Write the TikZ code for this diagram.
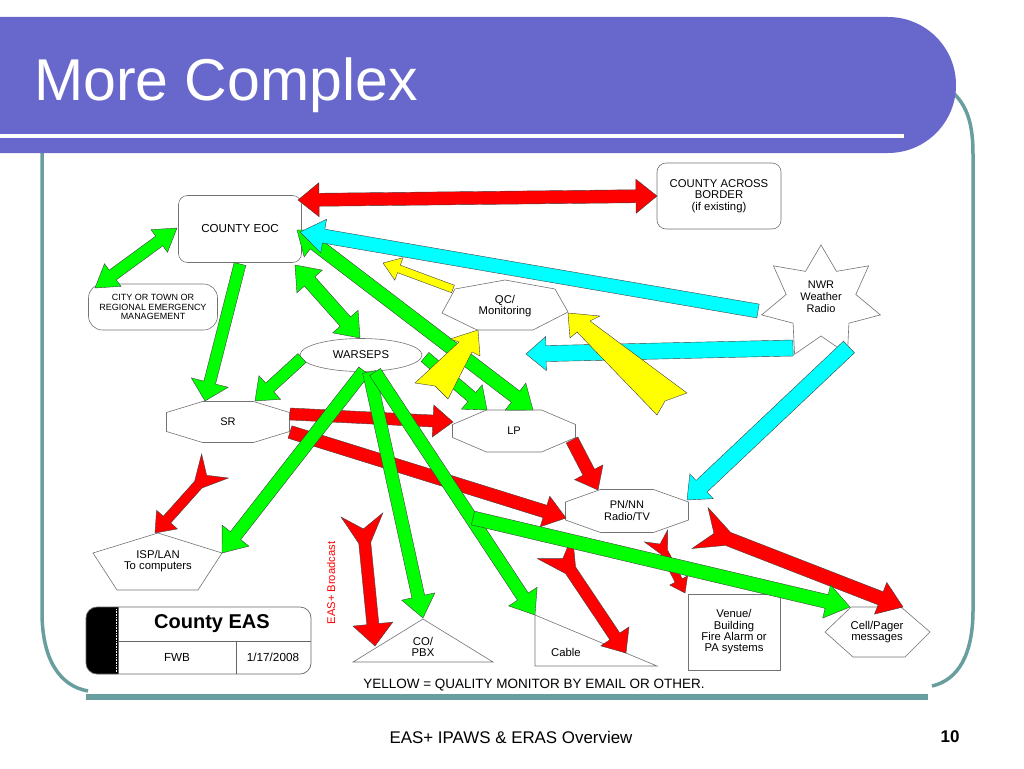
\documentclass[tikz,border=0pt]{standalone}
\usepackage{fontspec}
\setmainfont{Liberation Sans}
\usetikzlibrary{calc,positioning,shapes.geometric}

\definecolor{slidepurple}{RGB}{104,104,204}
\definecolor{frameteal}{RGB}{104,158,158}
\definecolor{arrgreen}{RGB}{0,255,0}
\definecolor{arrcyan}{RGB}{0,255,255}
\definecolor{arryellow}{RGB}{255,255,0}

\begin{document}
\begin{tikzpicture}[x=1pt,y=-1pt,
    shp/.style={draw=black!55,line width=.6pt,fill=white},
    lbl/.style={align=center,inner sep=0pt,font=\fontsize{11}{12}\selectfont},
    redarr/.style={fill=red,draw=black!75,line width=.4pt},
    grnarr/.style={fill=arrgreen,draw=black!75,line width=.4pt},
    cyanarr/.style={fill=arrcyan,draw=black!75,line width=.4pt},
    yelarr/.style={fill=arryellow,draw=black!75,line width=.4pt}]

  \useasboundingbox (0,0) rectangle (1024,768);

  %% block arrows: style, tail, tip, half shaft, half head, head length
  \def\onearrow#1#2#3#4#5#6{
    \coordinate (ta) at (#2);
    \coordinate (tb) at (#3);
    \coordinate (hb) at ($(tb)!#6!(ta)$);
    \filldraw[#1] ($(ta)!#4!90:(tb)$) -- ($(hb)!#4!90:(tb)$) -- ($(hb)!#5!90:(tb)$) -- (tb)
      -- ($(hb)!#5!-90:(tb)$) -- ($(hb)!#4!-90:(tb)$) -- ($(ta)!#4!-90:(tb)$) -- cycle;
  }
  \def\twoarrow#1#2#3#4#5#6{
    \coordinate (ta) at (#2);
    \coordinate (tb) at (#3);
    \coordinate (ha) at ($(ta)!#6!(tb)$);
    \coordinate (hb) at ($(tb)!#6!(ta)$);
    \filldraw[#1] (ta) -- ($(ha)!#5!90:(tb)$) -- ($(ha)!#4!90:(tb)$) -- ($(hb)!#4!90:(tb)$)
      -- ($(hb)!#5!90:(tb)$) -- (tb) -- ($(hb)!#5!-90:(tb)$) -- ($(hb)!#4!-90:(tb)$)
      -- ($(ha)!#4!-90:(tb)$) -- ($(ha)!#5!-90:(tb)$) -- cycle;
  }
  %% same with a notched tail: ... , half tail width, tail length
  \def\fletcharrow#1#2#3#4#5#6#7#8{
    \coordinate (ta) at (#2);
    \coordinate (tb) at (#3);
    \coordinate (hb) at ($(tb)!#6!(ta)$);
    \coordinate (tf) at ($(ta)!#8!(tb)$);
    \coordinate (tn) at ($(ta)!.5!(tf)$);
    \filldraw[#1] ($(tf)!#4!90:(tb)$) -- ($(hb)!#4!90:(tb)$) -- ($(hb)!#5!90:(tb)$) -- (tb)
      -- ($(hb)!#5!-90:(tb)$) -- ($(hb)!#4!-90:(tb)$) -- ($(tf)!#4!-90:(tb)$)
      -- ($(ta)!#7!-90:(tb)$) -- (tn) -- ($(ta)!#7!90:(tb)$) -- cycle;
  }

  %%%% slide frame and title %%%%
  \draw[frameteal,line width=3.5pt] (950,90) .. controls (968,105) and (973,125) .. (973,155)
    -- (973,610) .. controls (973,655) and (958,680) .. (932,686);
  \draw[frameteal,line width=3.5pt] (42,150) -- (42,612) .. controls (42,660) and (60,686) .. (88,691);
  \draw[frameteal,line width=6pt] (86,697) -- (928,697);
  \fill[slidepurple,rounded corners=68pt] (-100,17) rectangle (956,153);
  \draw[white,line width=3.5pt] (-5,136) -- (904,136);
  \node[anchor=base west,text=white,inner sep=0pt,font=\fontsize{59}{60}\selectfont] (title) at (34,100) {More Complex};

  %%%% boxes %%%%
  \node[shp,rounded corners=9pt,minimum width=123,minimum height=67,lbl,font=\fontsize{11.6}{12.5}\selectfont]
    (eoc) at (240,229) {COUNTY EOC};
  \node[shp,rounded corners=14pt,minimum width=129,minimum height=46,lbl,font=\fontsize{9}{9.3}\selectfont]
    (city) at (153,307) {CITY OR TOWN OR\\REGIONAL EMERGENCY\\MANAGEMENT};
  \node[shp,rounded corners=9pt,minimum width=124,minimum height=66,lbl,font=\fontsize{11.3}{11.3}\selectfont]
    (border) at (719,196) {COUNTY ACROSS\\BORDER\\(if existing)};
  \node[shp,ellipse,minimum width=122,minimum height=33,lbl,font=\fontsize{11.3}{12}\selectfont] (warseps) at (361,355) {WARSEPS};
  \node[shp,minimum width=92,minimum height=76,lbl,font=\fontsize{11.3}{11.3}\selectfont]
    (venue) at (734,632) {Venue/\\Building\\Fire Alarm or\\PA systems};

  %% octagons
  \foreach \nm/\cx/\cy/\b/\c/\s/\txt in {sr/228/422/20.5/36/9.5/SR, lp/514/431/21/34/6.5/LP,
      pn/627/511/21.5/35/9/{PN/NN\\Radio/TV}}{
    \draw[shp] ({\cx-61.5+\c},{\cy-\b}) -- ({\cx+61.5-\c},{\cy-\b}) -- ({\cx+61.5},{\cy-\s})
      -- ({\cx+61.5},{\cy+\s}) -- ({\cx+61.5-\c},{\cy+\b}) -- ({\cx-61.5+\c},{\cy+\b})
      -- ({\cx-61.5},{\cy+\s}) -- ({\cx-61.5},{\cy-\s}) -- cycle;
    \node[lbl] (\nm) at (\cx,\cy) {\txt};
  }

  %% other shapes
  \draw[shp] (442,313) -- (455,289) -- (505,280) -- (555,289) -- (568,312) -- (533,330) -- (477,330) -- cycle;
  \node[lbl,font=\fontsize{11.3}{11.7}\selectfont] (qc) at (505,306) {QC/\\Monitoring};
  \coordinate (nwr-c) at (821,302);
  \draw[shp] ($(nwr-c)+(0,-57)$) \foreach \i in {1,...,13}{
      -- ($(nwr-c)+({1.05*(46+12*cos(\i*180))*cos(\i*180/7-90)},{(46+12*cos(\i*180))*sin(\i*180/7-90)})$) } -- cycle;
  \node[lbl] (nwr) at (821,297) {NWR\\Weather\\Radio};
  \draw[shp] (158,533) -- (222,553) -- (198,590) -- (117,590) -- (93,553) -- cycle;
  \node[lbl,font=\fontsize{11.3}{11.5}\selectfont] (isp) at (158,561) {ISP/LAN\\To computers};
  \draw[shp] (423,619) -- (493,662) -- (353,662) -- cycle;
  \node[lbl,font=\fontsize{11.3}{10.5}\selectfont] (copbx) at (423,647) {CO/\\PBX};
  \draw[shp] (535,615) -- (657,666) -- (535,666) -- cycle;
  \node[lbl,font=\fontsize{11.3}{11}\selectfont] (cable) at (566,652) {Cable};
  \draw[shp] (825,632) -- (851,607) -- (901,607) -- (930,632) -- (905,657) -- (853,657) -- cycle;
  \node[lbl,font=\fontsize{11.3}{11}\selectfont] (cell) at (877,632) {Cell/Pager\\messages};

  %%%% arrow ends %%%%
  \coordinate (eoc-ne) at (298,200);    \coordinate (border-w) at (657,196);
  \coordinate (eoc-w) at (177,228);     \coordinate (city-n) at (95,288);
  \coordinate (eoc-s) at (240,264);     \coordinate (sr-n) at (205,401);
  \coordinate (eoc-se) at (295,265);    \coordinate (warseps-n) at (360,338);
  \coordinate (eoc-e) at (297,230);     \coordinate (lp-ne) at (533,410);
  \coordinate (warseps-e) at (425,357); \coordinate (lp-n) at (487,410);
  \coordinate (warseps-w) at (302,358); \coordinate (sr-ne) at (255,401);
  \coordinate (warseps-s1) at (364,371); \coordinate (isp-ne) at (222,553);
  \coordinate (warseps-s2) at (369,372); \coordinate (copbx-n) at (423,618);
  \coordinate (warseps-s3) at (375,372); \coordinate (cable-n) at (535,615);
  \coordinate (green-tail) at (473,518); \coordinate (cell-w) at (850,607);
  \coordinate (sr-e1) at (290,414);     \coordinate (lp-w) at (453,422);
  \coordinate (sr-e2) at (290,432);     \coordinate (pn-w) at (566,518);
  \coordinate (lp-se) at (572,440);     \coordinate (pn-n) at (598,490);
  \coordinate (isp-tail) at (215,466);  \coordinate (isp-n) at (155,533);
  \coordinate (copbx-tail) at (362,515); \coordinate (copbx-w) at (375,646);
  \coordinate (cable-tail) at (555,547); \coordinate (cable-se) at (626,653);
  \coordinate (venue-tail) at (656,536); \coordinate (venue-nw) at (685,593);
  \coordinate (cell-tail) at (700,528); \coordinate (cell-ne) at (903,607);
  \coordinate (nwr-w1) at (758,311);    \coordinate (eoc-e2) at (300,232);
  \coordinate (nwr-w2) at (793,348);    \coordinate (qc-s) at (526,354);
  \coordinate (nwr-s) at (849,347);     \coordinate (pn-ne) at (687,500);
  \coordinate (qc-nw) at (453,289);     \coordinate (qc-out) at (383,263);

  %%%% red %%%%
  \twoarrow{redarr}{eoc-ne}{border-w}{6.5pt}{17pt}{21pt}
  \onearrow{redarr}{sr-e1}{lp-w}{6pt}{16pt}{20pt}
  \onearrow{redarr}{sr-e2}{pn-w}{6.5pt}{16pt}{22pt}
  \onearrow{redarr}{lp-se}{pn-n}{6.5pt}{16pt}{20pt}
  \fletcharrow{redarr}{isp-tail}{isp-n}{5pt}{14pt}{18pt}{18pt}{25pt}
  \fletcharrow{redarr}{copbx-tail}{copbx-w}{6pt}{20pt}{22pt}{21pt}{28pt}
  \fletcharrow{redarr}{cable-tail}{cable-se}{6pt}{17pt}{20pt}{21pt}{28pt}
  \fletcharrow{redarr}{venue-tail}{venue-nw}{4pt}{10pt}{14pt}{13pt}{18pt}
  \fletcharrow{redarr}{cell-tail}{cell-ne}{7pt}{17pt}{24pt}{22pt}{30pt}

  %%%% green %%%%
  \twoarrow{grnarr}{eoc-w}{city-n}{6pt}{14pt}{22pt}
  \onearrow{grnarr}{eoc-s}{sr-n}{6pt}{19pt}{19pt}
  \twoarrow{grnarr}{eoc-se}{warseps-n}{7pt}{17pt}{22pt}
  \twoarrow{grnarr}{eoc-e}{lp-ne}{7pt}{17pt}{22pt}
  \onearrow{grnarr}{warseps-e}{lp-n}{6pt}{16pt}{20pt}
  \onearrow{grnarr}{warseps-w}{sr-ne}{6pt}{16pt}{20pt}
  \onearrow{grnarr}{warseps-s1}{isp-ne}{6.5pt}{17pt}{22pt}
  \onearrow{grnarr}{warseps-s2}{copbx-n}{6.5pt}{17pt}{22pt}
  \onearrow{grnarr}{warseps-s3}{cable-n}{6.5pt}{17pt}{22pt}
  \onearrow{grnarr}{green-tail}{cell-w}{7pt}{17pt}{24pt}

  %%%% cyan %%%%
  \onearrow{cyanarr}{nwr-w1}{eoc-e2}{7pt}{17pt}{24pt}
  \onearrow{cyanarr}{nwr-w2}{qc-s}{8pt}{17pt}{20pt}
  \onearrow{cyanarr}{nwr-s}{pn-ne}{8pt}{17pt}{20pt}

  %%%% yellow (quality monitor) %%%%
  \onearrow{yelarr}{qc-nw}{qc-out}{4pt}{12pt}{17pt}
  \filldraw[yelarr] (478,330) -- (480,356) -- (472,352) -- (448,399) -- (435,386) -- (415,383)
    -- (459,342) -- (450,339) -- cycle;
  \filldraw[yelarr] (568,313) -- (600,316) -- (590,321) -- (687,393) -- (665,401) -- (657,415)
    -- (577,332) -- (570,338) -- cycle;

  %%%% title block %%%%
  \fill[black,rounded corners=11pt] (86,607) rectangle (130,674);
  \fill[white] (118,606) rectangle (132,675);
  \draw[white,densely dotted,line width=.6pt] (116.5,609) -- (116.5,672);
  \draw[black!60,line width=.7pt,rounded corners=11pt] (86,607) rectangle (311,674);
  \draw[black!60,line width=.7pt] (118,607) -- (118,674) (118,641) -- (311,641) (236,641) -- (236,674);
  \node[font=\bfseries\fontsize{20}{20}\selectfont,inner sep=0pt] (eas) at (212,624) {County EAS};
  \node[font=\fontsize{11.7}{12}\selectfont,inner sep=0pt] (fwb) at (177,657) {FWB};
  \node[font=\fontsize{11.7}{12}\selectfont,inner sep=0pt] (date) at (273,657) {1/17/2008};

  %% loose texts
  \node[rotate=90,text=red,inner sep=0pt,font=\fontsize{11.2}{12}\selectfont] (bcast) at (331,583) {EAS+ Broadcast};
  \node[inner sep=0pt,font=\fontsize{13.5}{14}\selectfont] (legend) at (534,685) {YELLOW = QUALITY MONITOR BY EMAIL OR OTHER.};
  \node[inner sep=0pt,font=\fontsize{16.9}{18}\selectfont] (foot) at (511,737) {EAS+ IPAWS \& ERAS Overview};
  \node[inner sep=0pt,font=\bfseries\fontsize{17}{18}\selectfont] (pgnum) at (950,737) {10};

\end{tikzpicture}
\end{document}
